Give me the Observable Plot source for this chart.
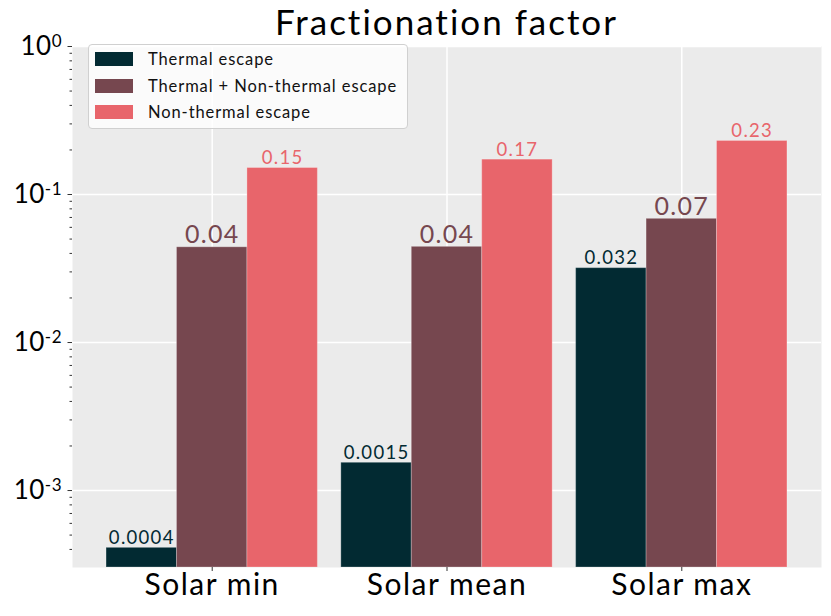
<!DOCTYPE html>
<html>
<head>
<meta charset="utf-8">
<script src="https://cdn.jsdelivr.net/npm/d3@7"></script>
<script src="https://cdn.jsdelivr.net/npm/@observablehq/plot@0.6"></script>
<style>
  body { margin: 0; background: #fff; font-family: Lato, sans-serif; }
  #wrap { position: relative; width: 831px; height: 616px; }
  #title { position: absolute; left: 72px; width: 749px; top: -2px; text-align: center;
           font-size: 35px; line-height: 46px; color: #000; letter-spacing: 2px; }
  #legend { position: absolute; left: 88px; top: 44px; width: 320px; height: 85px;
            background: rgba(255,255,255,0.8); border: 1px solid #d0d0d0; border-radius: 4px;
            box-sizing: border-box; }
  .row { position: absolute; left: 0; height: 20px; width: 100%; }
  .sw { position: absolute; left: 6px; top: 3px; width: 38px; height: 14px; }
  .lt { position: absolute; left: 59px; top: 0; font-size: 16.5px; line-height: 20px; color: #111;
        white-space: nowrap; letter-spacing: 0.9px; }
  #chart g[aria-label="x-axis tick label"] text { letter-spacing: 1.5px; }
  #chart g[aria-label="text"] text { letter-spacing: 1.3px; }
  #chart g[aria-label="y-axis tick label"] text { letter-spacing: 0.5px; }
</style>
</head>
<body>
<div id="wrap">
  <div id="chart"></div>
  <div id="title"></div>
  <div id="legend"></div>
</div>
<script>
const titleText = "Fractionation factor";
const categories = ["Solar min", "Solar mean", "Solar max"];
const seriesNames = ["Thermal escape", "Thermal + Non-thermal escape", "Non-thermal escape"];
const thermal = [0.00041, 0.00154, 0.0318];
const combined = [0.044, 0.0443, 0.0685];
const nonThermal = [0.151, 0.172, 0.23];
const thermalLabels = ["0.0004", "0.0015", "0.032"];
const combinedLabels = ["0.04", "0.04", "0.07"];
const nonThermalLabels = ["0.15", "0.17", "0.23"];
const yTicks = [1e-3, 1e-2, 1e-1, 1];
const yMinorTicks = [4e-4,5e-4,6e-4,7e-4,8e-4,9e-4,2e-3,3e-3,4e-3,5e-3,6e-3,7e-3,8e-3,9e-3,
                     2e-2,3e-2,4e-2,5e-2,6e-2,7e-2,8e-2,9e-2,0.2,0.3,0.4,0.5,0.6,0.7,0.8,0.9];
const colors = ["#022a32", "#76474f", "#e8656b"];

const seriesValues = [thermal, combined, nonThermal];
const seriesLabels = [thermalLabels, combinedLabels, nonThermalLabels];
const barWidth = 0.3;
const yMin = 3.02e-4;

const rows = categories.flatMap((c, gi) => seriesValues.map((vals, si) => ({
  category: c, gi, si, series: seriesNames[si], value: vals[gi], label: seriesLabels[si][gi]
})));
const center = d => d.gi + (d.si - 1) * barWidth;

const chart = Plot.plot({
  width: 831, height: 616,
  marginLeft: 72, marginRight: 10, marginTop: 46, marginBottom: 49,
  style: { fontFamily: "Lato, sans-serif", background: "transparent", color: "#000" },
  x: { type: "linear", domain: [-0.595, 2.595] },
  y: { type: "log", domain: [yMin, 1] },
  color: { domain: seriesNames, range: colors },
  marks: [
    Plot.frame({ fill: "#ebebeb", stroke: "none" }),
    Plot.gridY(yTicks, { stroke: "#fff", strokeOpacity: 1, strokeWidth: 1.5 }),
    Plot.gridX([0, 1, 2], { stroke: "#fff", strokeOpacity: 1, strokeWidth: 1.5 }),
    Plot.rectY(rows, {
      x1: d => center(d) - barWidth / 2, x2: d => center(d) + barWidth / 2,
      y1: yMin, y2: "value", fill: "series",
      stroke: "#ffffff", strokeOpacity: 0.25, strokeWidth: 1
    }),
    Plot.text(rows, {
      x: center, y: "value", text: "label", fill: "series",
      lineAnchor: "bottom", dy: -4,
      fontSize: d => d.si === 1 ? 25 : 18.5,
      fontWeight: d => d.si === 1 ? 600 : 400
    }),
    Plot.axisY(yMinorTicks, { tickSize: 2.5, tickFormat: () => "", stroke: "#333", label: null }),
    Plot.axisY(yTicks, { tickSize: 4.5, tickPadding: 6, fontSize: 26, stroke: "#333", label: null,
      tickFormat: d => "10^" + Math.round(Math.log10(d)) }),
    Plot.axisX([0, 1, 2], { tickSize: 4, tickPadding: 2, fontSize: 30, stroke: "#333", label: null,
      tickFormat: i => categories[i] })
  ]
});
document.getElementById("chart").appendChild(chart);

// superscript formatting for the log tick labels
chart.querySelectorAll("text").forEach(t => {
  const s = t.textContent;
  if (/^10\^-?\d+$/.test(s)) {
    const exp = s.split("^")[1];
    while (t.firstChild) t.removeChild(t.firstChild);
    const a = document.createElementNS("http://www.w3.org/2000/svg", "tspan");
    a.textContent = "10";
    const b = document.createElementNS("http://www.w3.org/2000/svg", "tspan");
    b.textContent = exp;
    b.setAttribute("font-size", "17");
    b.setAttribute("dy", "-0.45em");
    t.appendChild(a); t.appendChild(b);
  }
});

document.getElementById("title").textContent = titleText;
const legend = document.getElementById("legend");
seriesNames.forEach((name, i) => {
  const row = document.createElement("div");
  row.className = "row";
  row.style.top = (4 + i * 26.6) + "px";
  const sw = document.createElement("div");
  sw.className = "sw";
  sw.style.background = colors[i];
  const lt = document.createElement("div");
  lt.className = "lt";
  lt.textContent = name;
  row.appendChild(sw); row.appendChild(lt);
  legend.appendChild(row);
});
</script>
</body>
</html>
